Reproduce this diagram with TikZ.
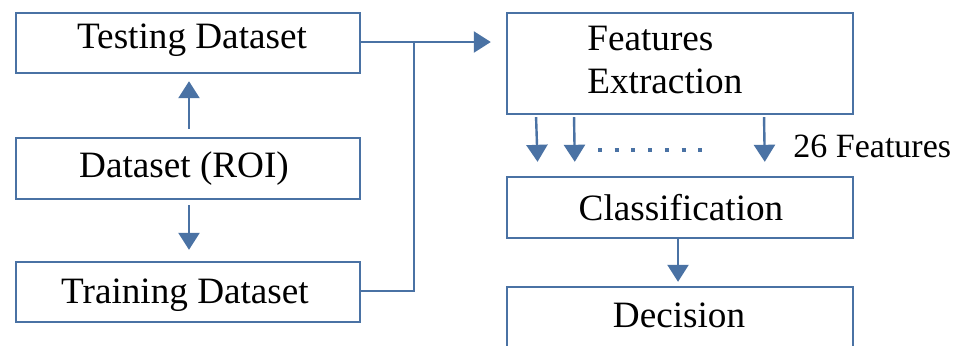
\documentclass[tikz,border=0pt]{standalone}
\usepackage{fontspec}
\setmainfont{Liberation Serif}
\newfontfamily\tnrfont{Liberation Serif}
\usetikzlibrary{arrows.meta}
\definecolor{lineblue}{HTML}{4A72A4}
\tikzset{
  box/.style={draw=lineblue, line width=1.2pt, minimum width=172pt, inner sep=0pt, fill=none},
  lbl/.style={anchor=base, inner sep=0pt, font=\tnrfont\fontsize{18.6}{22}\selectfont},
  arr/.style={draw=lineblue, line width=1.2pt, -{Triangle[width=10.5pt,length=8.5pt]}},
  conn/.style={draw=lineblue, line width=1.2pt},
}
\begin{document}
\begin{tikzpicture}[x=0.5pt, y=-0.5pt]
\clip (0,0) rectangle (956,345);
\fill[white] (0,0) rectangle (956,345);
% left column boxes
\node[box, minimum height=30pt] (test) at (188,43) {};
\node[box, minimum height=30.5pt] (roi) at (188,168.5) {};
\node[box, minimum height=30pt] (train) at (188,292) {};
% right column boxes
\node[box, minimum width=173pt, minimum height=50.5pt] (fe) at (680,63.5) {};
\node[box, minimum width=173pt, minimum height=30.5pt] (cls) at (680,207.5) {};
\node[box, minimum width=173pt, minimum height=40pt] (dec) at (680,327) {};
% texts
\node[lbl] (ttest) at (192,48) {Testing Dataset};
\node[lbl] (troi) at (184,177) {Dataset (ROI)};
\node[lbl] (ttrain) at (185,303) {Training Dataset};
\node[lbl, anchor=base west] (tfe1) at (587,50) {Features};
\node[lbl, anchor=base west] (tfe2) at (587,93) {Extraction};
\node[lbl] (tcls) at (681,220) {Classification};
\node[lbl] (tdec) at (679,327) {Decision};
\node[lbl, anchor=base west, font=\tnrfont\fontsize{17}{20}\selectfont] (tnf) at (793,157) {26 Features};
% connectors left column
\draw[arr, shorten <=4pt, shorten >=3.5pt] ([xshift=0.5pt]roi.north) -- ([xshift=0.5pt]test.south);
\draw[arr, shorten <=2.5pt, shorten >=5.5pt] ([xshift=0.5pt]roi.south) -- ([xshift=0.5pt]train.north);
\coordinate (j) at ([xshift=26.5pt,yshift=0.5pt]test.east);
\draw[arr, shorten >=7.5pt] ([yshift=0.5pt]test.east) -- (fe.west |- j);
\draw[conn] ([yshift=0.5pt]train.east) -| (j);
% feature arrows
\draw[arr, shorten <=1pt, shorten >=7pt] ([xshift=-72pt]fe.south) -- ([xshift=-71pt]cls.north);
\draw[arr, shorten <=1pt, shorten >=7pt] ([xshift=-53pt]fe.south) -- ([xshift=-52.5pt]cls.north);
\draw[arr, shorten <=1pt, shorten >=7pt] ([xshift=42pt]fe.south) -- ([xshift=42.5pt]cls.north);
\draw[lineblue, line width=2pt, dash pattern=on 2pt off 6.35pt] (598,150) -- (702,150);
% classification to decision
\draw[arr, shorten >=2pt] ([xshift=-1pt]cls.south) -- ([xshift=-1pt]dec.north);
\end{tikzpicture}
\end{document}
